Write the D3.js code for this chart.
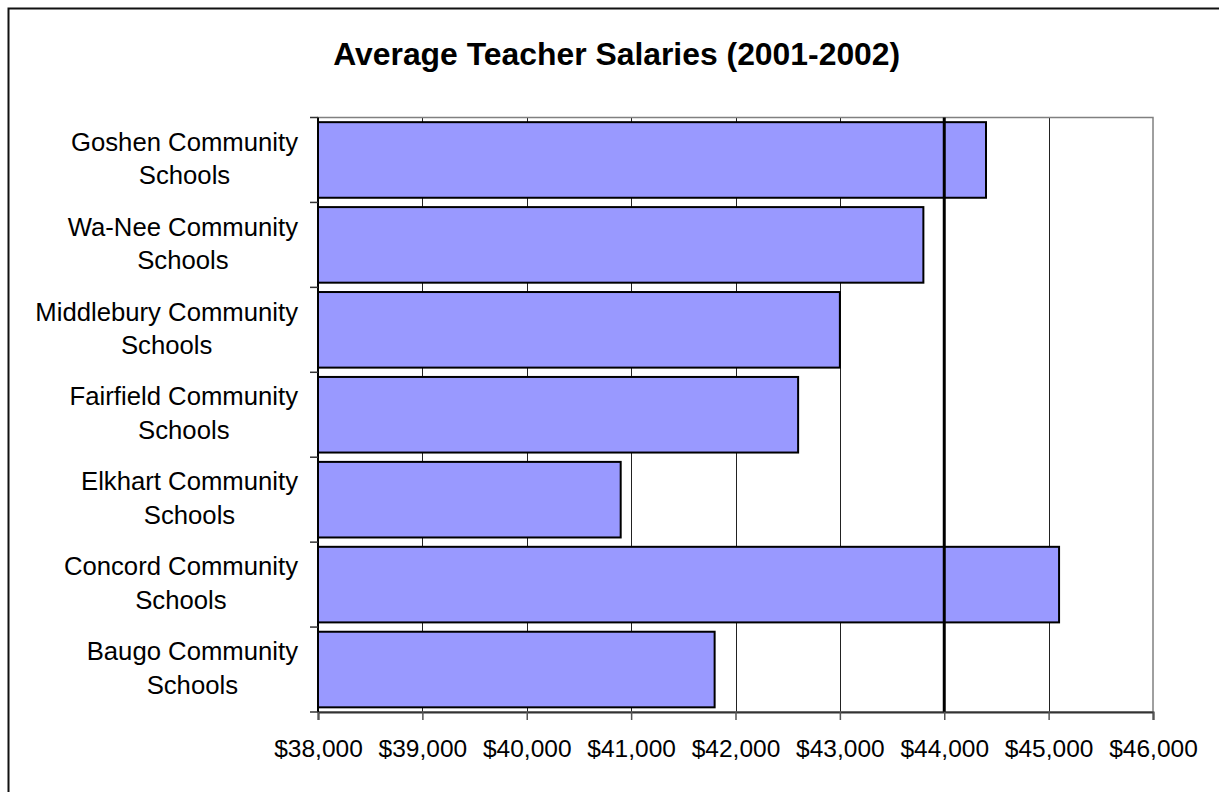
<!DOCTYPE html>
<html>
<head>
<meta charset="utf-8">
<script src="https://cdn.jsdelivr.net/npm/d3@7"></script>
<style>
  body { margin: 0; background: white; }
  text { font-family: "Liberation Sans", Arial, sans-serif; fill: black; }
</style>
</head>
<body>
<div id="chart"></div>
<script>
// data
const schools = [
  "Goshen Community Schools",
  "Wa-Nee Community Schools",
  "Middlebury Community Schools",
  "Fairfield Community Schools",
  "Elkhart Community Schools",
  "Concord Community Schools",
  "Baugo Community Schools"
];
const salaries = [44400, 43800, 43000, 42600, 40900, 45100, 41800];
const markerValue = 44000;
const xDomain = [38000, 46000];
const title = "Average Teacher Salaries (2001-2002)";

let width = 1219,
  height = 792,
  plot = { left: 318, right: 1153, top: 117.5, bottom: 712 };

let svg = d3.select('#chart')
  .append('svg')
    .attr('width', width)
    .attr('height', height)
    .style('background', 'white');

// outer chart frame (runs off the right and bottom edge)
svg.append('rect')
  .attr('x', 8.5).attr('y', 8.5)
  .attr('width', 1300).attr('height', 900)
  .attr('fill', 'none')
  .attr('stroke', '#111')
  .attr('stroke-width', 2);

// title (fit to the width measured on the picture)
svg.append('text')
  .attr('x', 616.7)
  .attr('y', 65)
  .attr('text-anchor', 'middle')
  .attr('textLength', 567)
  .attr('lengthAdjust', 'spacingAndGlyphs')
  .style('font-size', '31.5px')
  .style('font-weight', 'bold')
  .text(title);

// scales
let xScale = d3.scaleLinear()
  .domain(xDomain)
  .range([plot.left, plot.right]);

let yScale = d3.scaleBand()
  .domain(schools)
  .range([plot.top, plot.bottom])
  .paddingInner(0.11)
  .paddingOuter(0.055);

let ticks = xScale.ticks(8);

// vertical gridlines
svg.append('g')
  .selectAll('line')
  .data(ticks.slice(1, -1))
  .enter()
  .append('line')
  .attr('x1', d => Math.round(xScale(d)) + 0.5)
  .attr('x2', d => Math.round(xScale(d)) + 0.5)
  .attr('y1', plot.top)
  .attr('y2', plot.bottom)
  .attr('stroke', '#222')
  .attr('stroke-width', 1);

// plot area border
svg.append('rect')
  .attr('x', plot.left)
  .attr('y', plot.top)
  .attr('width', plot.right - plot.left)
  .attr('height', plot.bottom - plot.top)
  .attr('fill', 'none')
  .attr('stroke', '#808080')
  .attr('stroke-width', 1.5);

// bars
svg.append('g')
  .selectAll('rect')
  .data(schools)
  .enter()
  .append('rect')
  .attr('x', xScale(xDomain[0]))
  .attr('y', d => yScale(d))
  .attr('width', (d, i) => xScale(salaries[i]) - xScale(xDomain[0]))
  .attr('height', yScale.bandwidth())
  .attr('fill', '#9999FF')
  .attr('stroke', '#000')
  .attr('stroke-width', 2);

// marker line
svg.append('line')
  .attr('x1', xScale(markerValue))
  .attr('x2', xScale(markerValue))
  .attr('y1', plot.top)
  .attr('y2', plot.bottom)
  .attr('stroke', '#000')
  .attr('stroke-width', 3);

// x axis
let xAxis = d3.axisBottom(xScale)
  .tickValues(ticks)
  .tickSize(8)
  .tickPadding(20)
  .tickFormat(d3.format('$,'));

let xg = svg.append('g')
  .attr('class', 'x axis')
  .attr('transform', 'translate(0,' + plot.bottom + ')')
  .call(xAxis);
xg.select('.domain').attr('stroke', '#333').attr('stroke-width', 2);
xg.selectAll('.tick line').attr('stroke', '#555').attr('stroke-width', 1.5);
xg.selectAll('.tick text')
  .style('font-size', '24.5px')
  .style('font-family', '"Liberation Sans", Arial, sans-serif')
  .attr('fill', '#000');

// y axis line and ticks at category boundaries
let step = yScale.step();
let boundaries = schools.map(d => yScale(d) - step * yScale.paddingInner() / 2);
boundaries.push(plot.bottom);

svg.append('line')
  .attr('x1', plot.left).attr('x2', plot.left)
  .attr('y1', plot.top).attr('y2', plot.bottom)
  .attr('stroke', '#000')
  .attr('stroke-width', 2);

svg.append('g')
  .selectAll('line')
  .data(boundaries)
  .enter()
  .append('line')
  .attr('x1', plot.left - 8)
  .attr('x2', plot.left)
  .attr('y1', d => d)
  .attr('y2', d => d)
  .attr('stroke', '#333')
  .attr('stroke-width', 1.5);

// category labels: two lines centred on each other, block right-aligned
let labels = svg.append('g')
  .selectAll('g')
  .data(schools)
  .enter()
  .append('g');

labels.each(function(d) {
  let g = d3.select(this);
  let cut = d.lastIndexOf(' ');
  let lines = [d.slice(0, cut), d.slice(cut + 1)];
  let cy = yScale(d) + yScale.bandwidth() / 2;
  let texts = g.selectAll('text')
    .data(lines)
    .enter()
    .append('text')
    .attr('y', (l, i) => cy - 9.3 + i * 33.3)
    .attr('text-anchor', 'middle')
    .style('font-size', '25.7px')
    .text(l => l);
  let w = d3.max(texts.nodes(), n => n.getComputedTextLength());
  texts.attr('x', 298 - w / 2);
});
</script>
</body>
</html>
